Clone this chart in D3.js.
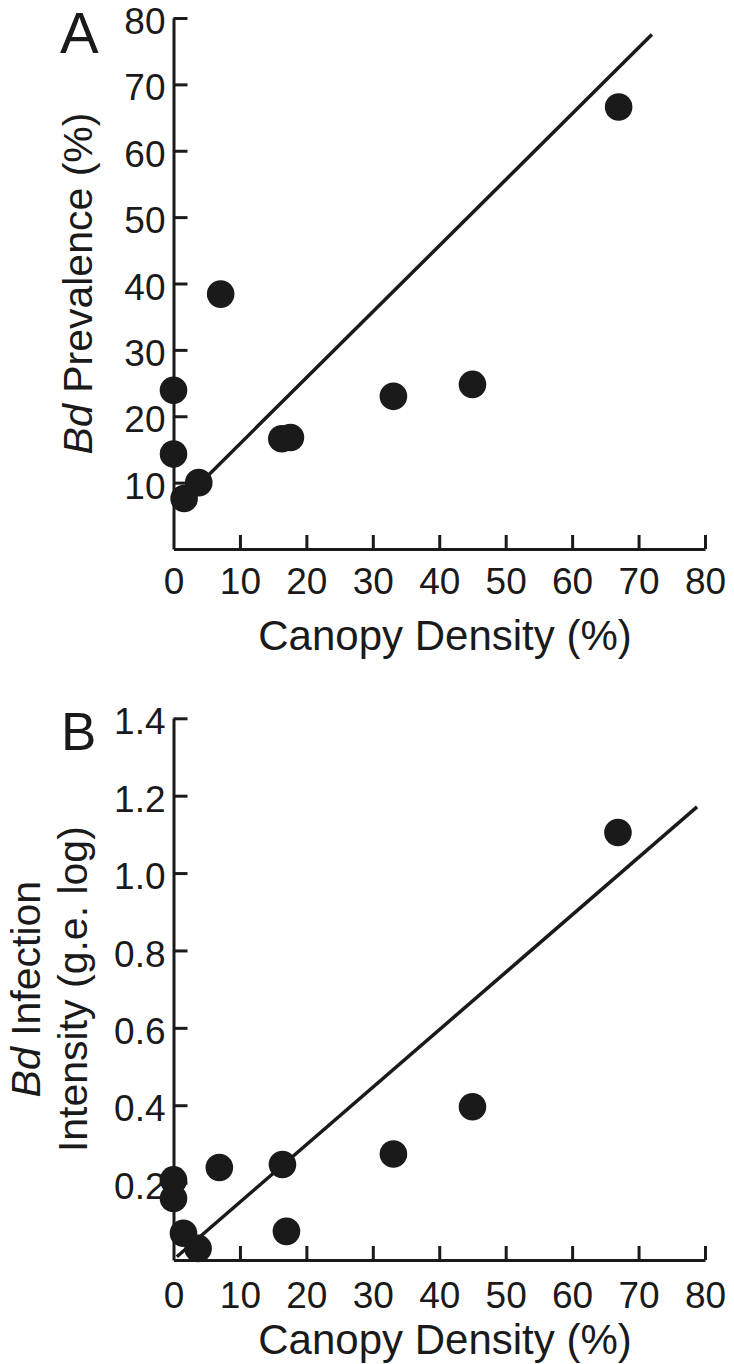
<!DOCTYPE html>
<html>
<head>
<meta charset="utf-8">
<script src="https://cdn.jsdelivr.net/npm/d3@7"></script>
<style>
  body { margin: 0; background: #fff; }
  svg text { font-family: "Liberation Sans", Arial, sans-serif; fill: #1a1a1a; }
</style>
</head>
<body>
<div id="chart"></div>
<script>
// canopy density (%) for each site
var canopy = [0, 0, 1.6, 3.8, 7.1, 16.3, 17.6, 33.1, 45, 67];
// panel A: Bd prevalence (%)
var prevalence = [23.9, 14.3, 7.6, 10.0, 38.4, 16.6, 16.8, 23.0, 24.8, 66.6];
// panel B: canopy values and infection intensity (g.e. log)
var canopyB = [0, 0, 1.5, 3.7, 6.9, 16.4, 17.0, 33.1, 45, 66.9];
var intensity = [0.207, 0.159, 0.069, 0.030, 0.239, 0.247, 0.074, 0.274, 0.396, 1.105];

// fitted lines, start and end points
var fitA = [[1, 6.9], [72, 77.5]];
var fitB = [[0.5, 0.0085], [78.8, 1.171]];

var xTicks = [0, 10, 20, 30, 40, 50, 60, 70, 80];
var yTicksA = [10, 20, 30, 40, 50, 60, 70, 80];
var yTicksB = [0.2, 0.4, 0.6, 0.8, 1.0, 1.2, 1.4];

var ink = "#1a1a1a";

var svg = d3.select("#chart").append("svg")
  .attr("width", 734)
  .attr("height", 1364);

function panel(opts) {
  var x = d3.scaleLinear().domain([0, 80]).range([173.5, 705]);
  var y = d3.scaleLinear().domain(opts.yDomain).range(opts.yRange);

  var g = svg.append("g");

  var xAxis = g.append("g")
    .attr("transform", "translate(0," + opts.yRange[0] + ")")
    .call(d3.axisBottom(x).tickValues(xTicks).tickSizeInner(-14).tickSizeOuter(0).tickPadding(opts.xPad));
  var yAxis = g.append("g")
    .attr("transform", "translate(" + x(0) + ",0)")
    .call(d3.axisLeft(y).tickValues(opts.yTicks).tickFormat(opts.fmt).tickSizeInner(-14).tickSizeOuter(0).tickPadding(8));

  [xAxis, yAxis].forEach(function(a) {
    a.selectAll("path, line").attr("stroke", ink).attr("stroke-width", 3);
    a.selectAll("text").attr("font-size", 37).attr("fill", ink)
      .style("font-family", '"Liberation Sans", Arial, sans-serif');
  });
  yAxis.selectAll("text").attr("dy", "0.42em");
  xAxis.selectAll(".tick").filter(function(d) { return d === 0; }).select("line").remove();

  // regression line
  g.append("path")
    .datum(opts.fit)
    .attr("d", d3.line().x(function(d) { return x(d[0]); }).y(function(d) { return y(d[1]); }))
    .attr("stroke", ink)
    .attr("stroke-width", 3.5)
    .attr("fill", "none");

  // points
  g.selectAll("circle")
    .data(opts.xs.map(function(v, i) { return [v, opts.ys[i]]; }))
    .enter().append("circle")
    .attr("cx", function(d) { return x(d[0]); })
    .attr("cy", function(d) { return y(d[1]); })
    .attr("r", 13.8)
    .attr("fill", ink);

  // panel letter
  g.append("text")
    .attr("x", opts.letterPos[0])
    .attr("y", opts.letterPos[1])
    .attr("font-size", opts.letterSize)
    .text(opts.letter);

  // x title
  g.append("text")
    .attr("x", 445)
    .attr("y", opts.xTitleY)
    .attr("text-anchor", "middle")
    .attr("font-size", 42)
    .text("Canopy Density (%)");

  // y title (one or two lines)
  opts.yTitle.forEach(function(line) {
    var t = g.append("text")
      .attr("transform", "translate(" + line.x + "," + (opts.yRange[0] + opts.yRange[1]) / 2 + ") rotate(-90)")
      .attr("text-anchor", "middle")
      .attr("font-size", 41);
    if (line.italic) t.append("tspan").attr("font-style", "italic").text(line.italic);
    t.append("tspan").text(line.rest);
  });
}

panel({
  xs: canopy, ys: prevalence,
  yDomain: [0, 80], yRange: [549, 18],
  yTicks: yTicksA, fmt: d3.format("d"),
  fit: fitA, xPad: 19,
  letter: "A", letterPos: [60, 53], letterSize: 58,
  xTitleY: 650,
  yTitle: [{ x: 92, italic: "Bd", rest: " Prevalence (%)" }]
});

panel({
  xs: canopyB, ys: intensity,
  yDomain: [0, 1.4], yRange: [1260, 718.3],
  yTicks: yTicksB, fmt: d3.format(".1f"),
  fit: fitB, xPad: 22,
  letter: "B", letterPos: [61, 750], letterSize: 53,
  xTitleY: 1354,
  yTitle: [
    { x: 40, italic: "Bd", rest: " Infection" },
    { x: 87, italic: "", rest: "Intensity (g.e. log)" }
  ]
});
</script>
</body>
</html>
